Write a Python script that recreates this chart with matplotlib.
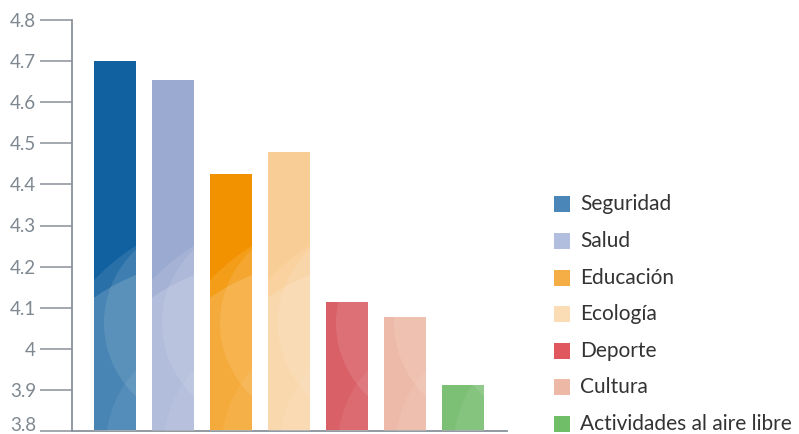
import matplotlib
matplotlib.use("Agg")
import matplotlib.pyplot as plt
from matplotlib.patches import Ellipse, Rectangle
import matplotlib.transforms as mtransforms

categories = ["Seguridad", "Salud", "Educación", "Ecología", "Deporte", "Cultura",
              "Actividades al aire libre"]
values = [4.70, 4.655, 4.425, 4.478, 4.115, 4.078, 3.912]
base_colors = ["#11609F", "#9BAAD1", "#F39200", "#F9CE96", "#CF3039", "#E8A690", "#55AE4B"]
legend_colors = ["#4A86B8", "#B2BEDD", "#F5AE45", "#FBDDB5", "#E0585E", "#EEB8A6", "#70BE67"]
yticks = [3.8, 3.9, 4.0, 4.1, 4.2, 4.3, 4.4, 4.5, 4.6, 4.7, 4.8]
yticklabels = ["3.8", "3.9", "4", "4.1", "4.2", "4.3", "4.4", "4.5", "4.6", "4.7", "4.8"]

W, H = 799, 434
fig = plt.figure(figsize=(W / 100, H / 100), dpi=100)
ax_left, ax_right, ax_top, ax_bot = 72, 507, 20, 431
ax = fig.add_axes([ax_left / W, 1 - ax_bot / H, (ax_right - ax_left) / W, (ax_bot - ax_top) / H])

xunit = 58.0  # px per category
yunit = 411.0  # px per 1.0 value
x0 = 115
ax.set_xlim((ax_left - x0) / xunit, (ax_right - x0) / xunit)
ax.set_ylim(3.8, 4.8)

bw = 42 / xunit
xs = list(range(len(categories)))
bars = ax.bar(xs, [v - 3.8 for v in values], bottom=3.8, width=bw, color=base_colors,
              linewidth=0, zorder=2)

# decorative translucent circles (pixel-based, relative to bar left edge)
circles = [(150, 420, 205, 0.10), (120, 470, 210, 0.15), (110, 323, 100, 0.10),
           (120, 445, 108, 0.07)]
def px_to_data(px, py):
    return ((px - x0) / xunit, 4.8 - (py - ax_top) / yunit)

for i, b in enumerate(bars):
    left_px = x0 + i * xunit - 21
    for cx, cy, r, a in circles:
        dx, dy = px_to_data(left_px + cx, cy)
        e = Ellipse((dx, dy), 2 * r / xunit, 2 * r / yunit, facecolor="white",
                    alpha=a, linewidth=0, zorder=3)
        ax.add_patch(e)
        e.set_clip_path(b)

gray = "#8A9199"
for s in ["top", "right"]:
    ax.spines[s].set_visible(False)
for s in ["left", "bottom"]:
    ax.spines[s].set_color(gray)
    ax.spines[s].set_linewidth(1.3)
ax.set_xticks([])
ax.set_yticks(yticks)
ax.set_yticklabels(yticklabels)
ax.tick_params(axis="y", direction="out", length=23, width=1.1, color=gray, pad=3,
               labelsize=13.5, labelcolor="#7F8890")
for t in ax.get_yticklabels():
    t.set_fontfamily("Lato")
labs = ax.get_yticklabels()
labs[0].set_transform(labs[0].get_transform() +
                      mtransforms.ScaledTranslation(0, 7 / 100, fig.dpi_scale_trans))

# legend
rows = [204, 241, 278, 314, 351, 387, 424]
for name, col, ry in zip(categories, legend_colors, rows):
    fig.patches.append(Rectangle((554 / W, 1 - (ry + 8) / H), 16 / W, 16 / H,
                                 facecolor=col, linewidth=0, transform=fig.transFigure,
                                 figure=fig))
    fig.text(580 / W, 1 - ry / H, name, ha="left", va="center", fontsize=15,
             color="#333333", family="Lato")

fig.savefig("out.png", dpi=100)
